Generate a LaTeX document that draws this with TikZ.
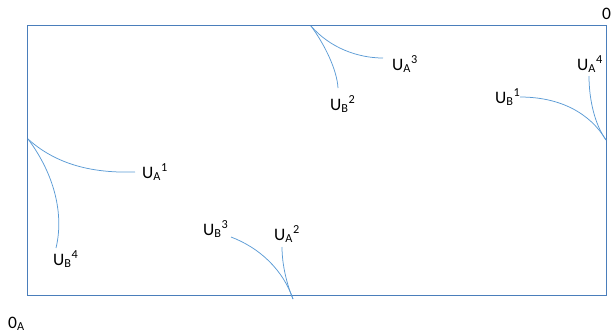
\documentclass[tikz,border=0pt]{standalone}
\usepackage{fontspec}
\setmainfont{Carlito}
\definecolor{framecol}{RGB}{74,126,187}
\definecolor{curvecol}{RGB}{91,155,213}
\begin{document}
\begin{tikzpicture}[x=1pt,y=-1pt,
  lbl/.style={anchor=base west,inner sep=0pt,font=\fontsize{17.5}{20}\selectfont},
  frame/.style={draw=framecol,line width=0.9pt},
  curve/.style={draw=curvecol,line width=0.75pt}]
\useasboundingbox (0,0) rectangle (611,333);
\node[frame,rectangle,inner sep=0pt,outer sep=0pt,minimum width=579pt,minimum height=270pt,anchor=north west] (box) at (27,25) {};
% corner points on the frame
\coordinate (pL) at (28,139);
\coordinate (pT) at (311,26);
\coordinate (pR) at (606,140);
\coordinate (pB) at (293,299);
% labels
\node[lbl] (ua1) at (142,178) {U\textsubscript{A}\textsuperscript{1}};
\node[lbl] (ub4) at (53,265) {U\textsubscript{B}\textsuperscript{4}};
\node[lbl] (ua3) at (392,70) {U\textsubscript{A}\textsuperscript{3}};
\node[lbl] (ub2) at (330,110) {U\textsubscript{B}\textsuperscript{2}};
\node[lbl] (ua4) at (577,70) {U\textsubscript{A}\textsuperscript{4}};
\node[lbl] (ub1) at (495,103) {U\textsubscript{B}\textsuperscript{1}};
\node[lbl] (ub3) at (203,235) {U\textsubscript{B}\textsuperscript{3}};
\node[lbl] (ua2) at (274,240) {U\textsubscript{A}\textsuperscript{2}};
\node[lbl] (o) at (602,19) {0};
\node[lbl] (oa) at (8,328) {0\textsubscript{A}};
% curve ends near labels
\coordinate (eA1) at (135,172);
\coordinate (eB4) at (56,248);
\coordinate (eA3) at (383,58);
\coordinate (eB2) at (338,88);
\coordinate (eB1) at (520,97);
\coordinate (eA4) at (589,76);
\coordinate (eB3) at (231,237);
\coordinate (eA2) at (282,247);
% curves
\draw[curve] (pL) .. controls (60,168) and (100,173) .. (eA1);
\draw[curve] (pL) .. controls (55,175) and (64,215) .. (eB4);
\draw[curve] (pT) .. controls (330,48) and (358,58) .. (eA3);
\draw[curve] (pT) .. controls (325,45) and (337,70) .. (eB2);
\draw[curve] (eB1) .. controls (560,97) and (590,113) .. (pR);
\draw[curve] (eA4) .. controls (589,100) and (595,125) .. (pR);
\draw[curve] (eB3) .. controls (260,248) and (283,270) .. (pB);
\draw[curve] (eA2) .. controls (282,265) and (287,285) .. (pB);
\end{tikzpicture}
\end{document}
